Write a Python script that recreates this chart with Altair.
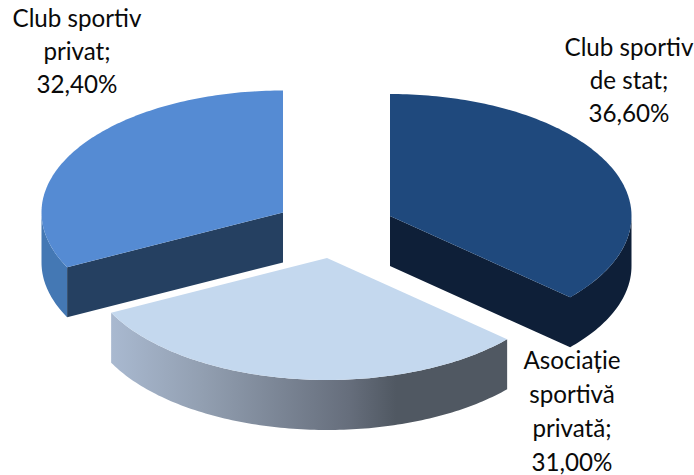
import math
import altair as alt

# Shares of each club type, clockwise from twelve o'clock
categories = ["Club sportiv de stat", "Asociație sportivă privată", "Club sportiv privat"]
shares = [36.6, 31.0, 32.4]
label_lines = [
    ["Club sportiv", "de stat;", "36,60%"],
    ["Asociație", "sportivă", "privată;", "31,00%"],
    ["Club sportiv", "privat;", "32,40%"],
]

# Page geometry of the tilted, exploded pie
WIDTH, HEIGHT = 694, 475
RX, RY, DEPTH = 241.5, 122, 50
APEX = {
    "Club sportiv de stat": (390, 216),
    "Asociație sportivă privată": (327, 258),
    "Club sportiv privat": (283, 212.5),
}
LABEL_POS = {
    "Club sportiv de stat": (629, 49, 33),
    "Asociație sportivă privată": (572, 362, 34),
    "Club sportiv privat": (77, 20, 32.8),
}
FONT = "Lato"
FONT_SIZE = 24.2

TOP = {
    "Club sportiv de stat": "#1F497D",
    "Asociație sportivă privată": "#C4D8EE",
    "Club sportiv privat": "#558BD3",
}
CUT_WALL = {"Club sportiv de stat": "#0E1F38", "Club sportiv privat": "#254061"}
OUTER_WALL = {
    "Club sportiv privat": "#4478B4",
    "Asociație sportivă privată": {
        "gradient": "linear", "x1": 0, "x2": 1, "y1": 0, "y2": 0,
        "stops": [
            {"offset": 0, "color": "#A9B9D0"},
            {"offset": 0.23, "color": "#929FB1"},
            {"offset": 0.6, "color": "#666E7C"},
            {"offset": 0.72, "color": "#505862"},
            {"offset": 1, "color": "#505862"},
        ],
    },
}


def rim(apex, a0, a1):
    """Points along the tilted rim between two clockwise angles in degrees."""
    steps = max(2, int(abs(a1 - a0)))
    out = []
    for i in range(steps + 1):
        t = math.radians(a0 + (a1 - a0) * i / steps)
        out.append((apex[0] + RX * math.sin(t), apex[1] - RY * math.cos(t)))
    return out


def drop(points):
    return [(x, y + DEPTH) for x, y in points]


def wall(upper):
    return upper + drop(upper)[::-1]


def feature(points):
    ring = [list(p) for p in points] + [list(points[0])]
    return {"type": "Feature", "properties": {}, "geometry": {"type": "Polygon", "coordinates": [ring]}}


def shape(points, fill):
    return (
        alt.Chart(alt.Data(values=[feature(points)]))
        .mark_geoshape(fill=fill, stroke=None)
        .project(type="identity", scale=1, translate=[0, 0])
    )


# Slice angle ranges come straight from the shares
spans = {}
start = 0.0
for name, share in zip(categories, shares):
    spans[name] = (start, start + share * 3.6)
    start += share * 3.6

layers = []
for name in ["Club sportiv privat", "Club sportiv de stat", "Asociație sportivă privată"]:
    a0, a1 = spans[name]
    apex = APEX[name]
    arc = rim(apex, a0, a1)
    # Faces that look towards the viewer: cut edge plus the front half of the rim
    if name == "Club sportiv de stat":
        layers.append(shape(wall([apex] + rim(apex, a1, 90)), CUT_WALL[name]))
    elif name == "Club sportiv privat":
        layers.append(shape(wall(rim(apex, a0, 270)), OUTER_WALL[name]))
        layers.append(shape(wall([arc[0], apex]), CUT_WALL[name]))
    else:
        layers.append(shape(wall(arc), OUTER_WALL[name]))
    layers.append(shape([apex] + arc, TOP[name]))

rows = []
for name, lines in zip(categories, label_lines):
    x0, y0, step = LABEL_POS[name]
    for i, line in enumerate(lines):
        rows.append({"t": line, "px": x0, "py": y0 + i * step})

pixel_x = alt.Scale(domain=[0, WIDTH], range=[0, WIDTH])
pixel_y = alt.Scale(domain=[0, HEIGHT], range=[0, HEIGHT])
labels = (
    alt.Chart(alt.Data(values=rows))
    .mark_text(font=FONT, fontSize=FONT_SIZE, color="#0A0A0A", align="center", baseline="middle")
    .encode(
        x=alt.X("px:Q", scale=pixel_x, axis=None),
        y=alt.Y("py:Q", scale=pixel_y, axis=None),
        text="t:N",
    )
)

chart = (
    alt.layer(*layers, labels)
    .properties(width=WIDTH, height=HEIGHT, padding=0, autosize=alt.AutoSizeParams(type="none"), background="white")
    .configure_view(stroke=None)
)
chart.save("out.html", embed_options={"renderer": "svg", "actions": False})
